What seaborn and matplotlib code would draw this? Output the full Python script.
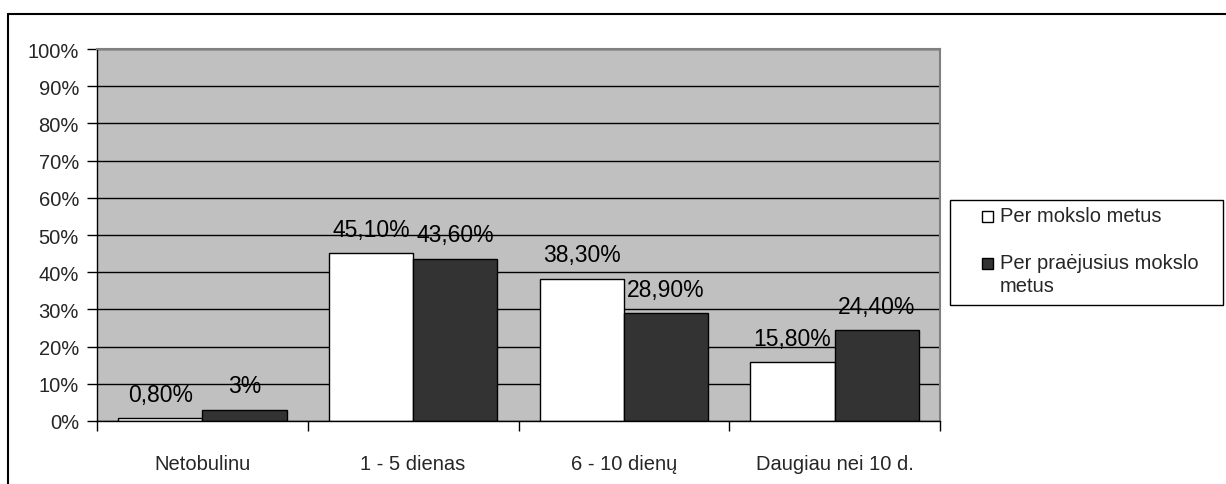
import matplotlib
matplotlib.use("Agg")
import matplotlib.pyplot as plt
from matplotlib.lines import Line2D
from matplotlib.patches import Rectangle
from matplotlib.ticker import FixedLocator, FuncFormatter
import pandas as pd
import seaborn as sns

CATEGORIES = ["Netobulinu", "1 - 5 dienas", "6 - 10 dienų", "Daugiau nei 10 d."]
SERIES = ["Per mokslo metus", "Per praėjusius mokslo metus"]
LEGEND_LABELS = ["Per mokslo metus", "Per praėjusius mokslo\nmetus"]
CURRENT = [0.8, 45.1, 38.3, 15.8]
PREVIOUS = [3.0, 43.6, 28.9, 24.4]
CURRENT_LABELS = ["0,80%", "45,10%", "38,30%", "15,80%"]
PREVIOUS_LABELS = ["3%", "43,60%", "28,90%", "24,40%"]
COLORS = ["#FFFFFF", "#333333"]

sns.set_theme(style="white")
plt.rcParams["font.family"] = ["Liberation Sans", "DejaVu Sans"]

df = pd.DataFrame({
    "category": CATEGORIES * 2,
    "series": [SERIES[0]] * len(CATEGORIES) + [SERIES[1]] * len(CATEGORIES),
    "value": CURRENT + PREVIOUS,
})

W, H = 1226, 485
fig = plt.figure(figsize=(W / 100, H / 100), dpi=100)
ax = fig.add_axes([97 / W, 1 - 422 / H, (940 - 97) / W, (422 - 50) / H])
ax.set_facecolor("#C0C0C0")

sns.barplot(
    data=df, x="category", y="value", hue="series", order=CATEGORIES,
    hue_order=SERIES, palette=COLORS, edgecolor="black", linewidth=1,
    width=0.8, saturation=1, legend=False, ax=ax,
)

for cont, labels in zip(ax.containers, [CURRENT_LABELS, PREVIOUS_LABELS]):
    ax.bar_label(cont, labels=labels, padding=9, fontsize=16.5, color="#000000")

ax.set_ylim(0, 100)
ax.set_xlim(-0.5, len(CATEGORIES) - 0.5)
ax.set_yticks(range(0, 101, 10))
ax.yaxis.set_major_formatter(FuncFormatter(lambda v, _: f"{int(v)}%"))
ax.set_axisbelow(True)
ax.yaxis.grid(True, color="black", linewidth=1)
ax.xaxis.grid(False)

ax.tick_params(axis="y", which="major", length=7, width=1, color="black",
               direction="out", left=True, labelsize=14.5, pad=6)
ax.tick_params(axis="x", which="major", length=0, labelsize=14.5, pad=24)
ax.xaxis.set_minor_locator(FixedLocator([i - 0.5 for i in range(len(CATEGORIES) + 1)]))
ax.tick_params(axis="x", which="minor", length=7, width=1, color="black",
               direction="out", bottom=True)
ax.set_xlabel("")
ax.set_ylabel("")

for side in ["left", "bottom"]:
    ax.spines[side].set_color("black")
    ax.spines[side].set_linewidth(1)
for side in ["top", "right"]:
    ax.spines[side].set_color("#808080")
    ax.spines[side].set_linewidth(1.5)

# legend box (Excel style: marker aligned with first text line)
fig.add_artist(Rectangle((950 / W, 1 - 306 / H), (1223 - 950) / W, (306 - 201) / H,
                         transform=fig.transFigure, facecolor="white",
                         edgecolor="black", linewidth=1))
for i, (col, lab) in enumerate(zip(COLORS, LEGEND_LABELS)):
    y_px = 217 + i * 47
    fig.add_artist(Rectangle((982 / W, 1 - (y_px + 5.5) / H), 11 / W, 11 / H,
                             transform=fig.transFigure, facecolor=col,
                             edgecolor="black", linewidth=1))
    fig.text(1000 / W, 1 - (y_px - 10) / H, lab, fontsize=14.5, va="top",
             ha="left", linespacing=1.25)

# outer chart frame
fig.add_artist(Line2D([8 / W, 8 / W], [0, 1 - 15 / H], color="black", linewidth=1.5))
fig.add_artist(Line2D([8 / W, 1], [1 - 15 / H, 1 - 15 / H], color="black", linewidth=1.5))

fig.savefig("out.png", dpi=100, facecolor="white")
